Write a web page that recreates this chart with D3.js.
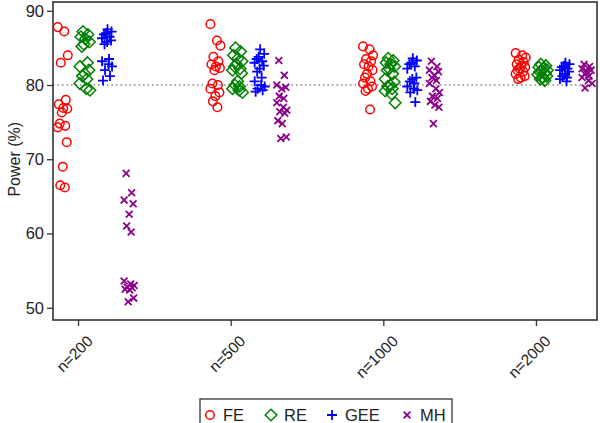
<!DOCTYPE html>
<html><head><meta charset="utf-8">
<script src="https://cdn.jsdelivr.net/npm/d3@7"></script>
<style>body{margin:0;background:#fff}svg{display:block;font-family:"Liberation Sans",Arial,sans-serif}</style>
</head><body>
<svg id="c" width="600" height="423"></svg>
<script>
const categories = ["n=200", "n=500", "n=1000", "n=2000"];
const seriesNames = ["FE", "RE", "GEE", "MH"];
const yTicks = [50, 60, 70, 80, 90];
const refLine = 80;

const FE = [
  [87.8, 87.2, 84.0, 83.0, 78.0, 77.4, 76.9, 76.8, 76.3, 74.8, 74.5, 74.3, 72.3, 69.0, 66.5, 66.2],
  [88.2, 86.0, 85.3, 83.8, 83.2, 82.8, 82.5, 82.3, 82.0, 80.2, 80.0, 79.5, 79.0, 78.5, 77.8, 77.0],
  [85.2, 84.8, 84.0, 83.5, 83.2, 82.8, 82.5, 82.0, 81.5, 81.0, 80.5, 80.2, 79.8, 79.5, 79.2, 76.7],
  [84.3, 84.0, 83.7, 83.4, 83.1, 82.8, 82.6, 82.4, 82.2, 82.0, 81.8, 81.5, 81.2, 81.0, 80.8]
];
const RE = [
  [87.2, 86.8, 86.5, 86.2, 85.8, 85.5, 85.2, 83.0, 82.5, 82.0, 81.5, 81.2, 80.8, 80.2, 79.5, 79.3],
  [85.0, 84.5, 84.0, 83.6, 83.2, 82.8, 82.5, 82.2, 82.0, 81.6, 80.5, 80.0, 79.8, 79.5, 79.3, 79.0],
  [83.6, 83.3, 83.0, 82.8, 82.5, 82.2, 82.0, 81.5, 80.8, 80.4, 80.0, 79.8, 79.5, 79.2, 78.8, 77.6],
  [82.8, 82.6, 82.4, 82.2, 82.0, 81.9, 81.8, 81.6, 81.4, 81.2, 81.0, 80.8, 80.6]
];
const GEE = [
  [87.5, 87.2, 87.0, 86.8, 86.5, 86.3, 86.0, 85.8, 85.5, 83.5, 83.2, 82.8, 82.5, 82.0, 81.2, 80.6],
  [84.8, 84.2, 83.8, 83.5, 83.2, 83.0, 82.6, 82.2, 81.8, 81.0, 80.5, 80.0, 79.8, 79.5, 79.3, 79.1],
  [83.6, 83.3, 83.0, 82.8, 82.5, 82.2, 81.0, 80.8, 80.5, 80.2, 79.8, 79.5, 79.3, 79.0, 77.7],
  [83.0, 82.8, 82.6, 82.4, 82.2, 82.0, 81.8, 81.5, 81.2, 81.0, 80.8, 80.5]
];
const MH = [
  [68.1, 65.5, 64.5, 64.0, 62.6, 61.0, 60.2, 53.6, 53.2, 53.0, 52.8, 52.7, 52.5, 52.4, 51.3, 50.8],
  [83.3, 81.3, 80.0, 79.7, 79.5, 78.5, 78.2, 77.6, 77.0, 76.6, 76.4, 76.2, 75.2, 74.8, 73.0, 72.8],
  [83.2, 82.5, 82.0, 81.8, 81.3, 81.0, 80.6, 80.2, 79.5, 79.0, 78.5, 78.2, 77.8, 77.3, 77.0, 74.8],
  [82.8, 82.5, 82.2, 82.0, 81.8, 81.5, 81.2, 81.0, 80.6, 80.2, 79.6]
];
const seriesData = [FE, RE, GEE, MH];

// styling
const colors = ["#ff0000", "#008000", "#0000ff", "#8b008b"];
const seriesOffset = [-0.1, 0.045, 0.19, 0.335];
const jitterPattern = [-1, 0.3, 1, -0.4, 0.6, -0.8, 0.1, 0.9, -0.2, -0.6, 0.5, -1, 0.8, 0, -0.5, 0.4];

const svg = d3.select("#c");
const L = 53, R = 597, T = 2, B = 320;
const x = d3.scaleLinear().domain([0.836, 4.4]).range([L, R]);
const y = d3.scaleLinear().domain([48.35, 91.18]).range([B, T]);

// reference line
svg.append("line").attr("x1", L).attr("x2", R).attr("y1", y(refLine)).attr("y2", y(refLine))
  .attr("stroke", "#888").attr("stroke-width", 1.3).attr("stroke-dasharray", "1.5,3");

// box
svg.append("rect").attr("x", L).attr("y", T).attr("width", R - L).attr("height", B - T)
  .attr("fill", "none").attr("stroke", "#333").attr("stroke-width", 1.6);

// y axis
const yAxis = d3.axisLeft(y).tickValues(yTicks).tickSize(6).tickPadding(3);
const ga = svg.append("g").attr("transform", `translate(${L},0)`).call(yAxis);
ga.select(".domain").remove();
ga.selectAll("line").attr("stroke", "#333").attr("stroke-width", 1.3);
ga.selectAll("text").attr("font-size", 16.5).attr("fill", "#222");

svg.append("text").attr("transform", `translate(14,${(y(50) + y(90)) / 2}) rotate(-90)`)
  .attr("text-anchor", "middle").attr("font-size", 16).attr("fill", "#222").attr("dy", "0.35em").text("Power (%)");

// x axis
const xAxis = d3.axisBottom(x).tickValues([1, 2, 3, 4]).tickFormat((d) => categories[d - 1]).tickSize(6);
const gx = svg.append("g").attr("transform", `translate(0,${B})`).call(xAxis);
gx.select(".domain").remove();
gx.selectAll("line").attr("stroke", "#333").attr("stroke-width", 1.3);
gx.selectAll("text").attr("font-size", 15.5).attr("fill", "#222")
  .attr("text-anchor", "end").attr("dy", "0.35em")
  .attr("transform", "translate(5,12) rotate(-45)");

// markers
function drawMarker(g, s, cx, cy) {
  const c = colors[s];
  if (s === 0) {
    g.append("circle").attr("cx", cx).attr("cy", cy).attr("r", 4.3)
      .attr("fill", "none").attr("stroke", c).attr("stroke-width", 1.5);
  } else if (s === 1) {
    const r = 5.8;
    g.append("path").attr("d", `M${cx},${cy - r}L${cx + r},${cy}L${cx},${cy + r}L${cx - r},${cy}Z`)
      .attr("fill", "none").attr("stroke", c).attr("stroke-width", 1.5);
  } else if (s === 2) {
    const r = 5;
    g.append("path").attr("d", `M${cx - r},${cy}H${cx + r}M${cx},${cy - r}V${cy + r}`)
      .attr("stroke", c).attr("stroke-width", 1.8);
  } else {
    const r = 3.4;
    g.append("path").attr("d", `M${cx - r},${cy - r}L${cx + r},${cy + r}M${cx - r},${cy + r}L${cx + r},${cy - r}`)
      .attr("stroke", c).attr("stroke-width", 1.8);
  }
}

const gm = svg.append("g");
seriesData.forEach((ser, s) => {
  ser.forEach((vals, ci) => {
    vals.forEach((v, i) => {
      const cx = x(ci + 1 + seriesOffset[s]) + jitterPattern[(i + s * 3) % jitterPattern.length] * 5;
      drawMarker(gm, s, cx, y(v));
    });
  });
});

// legend
const lg = svg.append("g");
lg.append("rect").attr("x", 200).attr("y", 399).attr("width", 252).attr("height", 30)
  .attr("fill", "#fff").attr("stroke", "#333").attr("stroke-width", 1.3);
const legX = [210, 271, 332, 407];
seriesNames.forEach((n, s) => {
  drawMarker(lg, s, legX[s], 415);
  lg.append("text").attr("x", legX[s] + 13).attr("y", 415).attr("dy", "0.35em")
    .attr("font-size", 16.5).attr("fill", "#222").text(n);
});
</script>
</body></html>
